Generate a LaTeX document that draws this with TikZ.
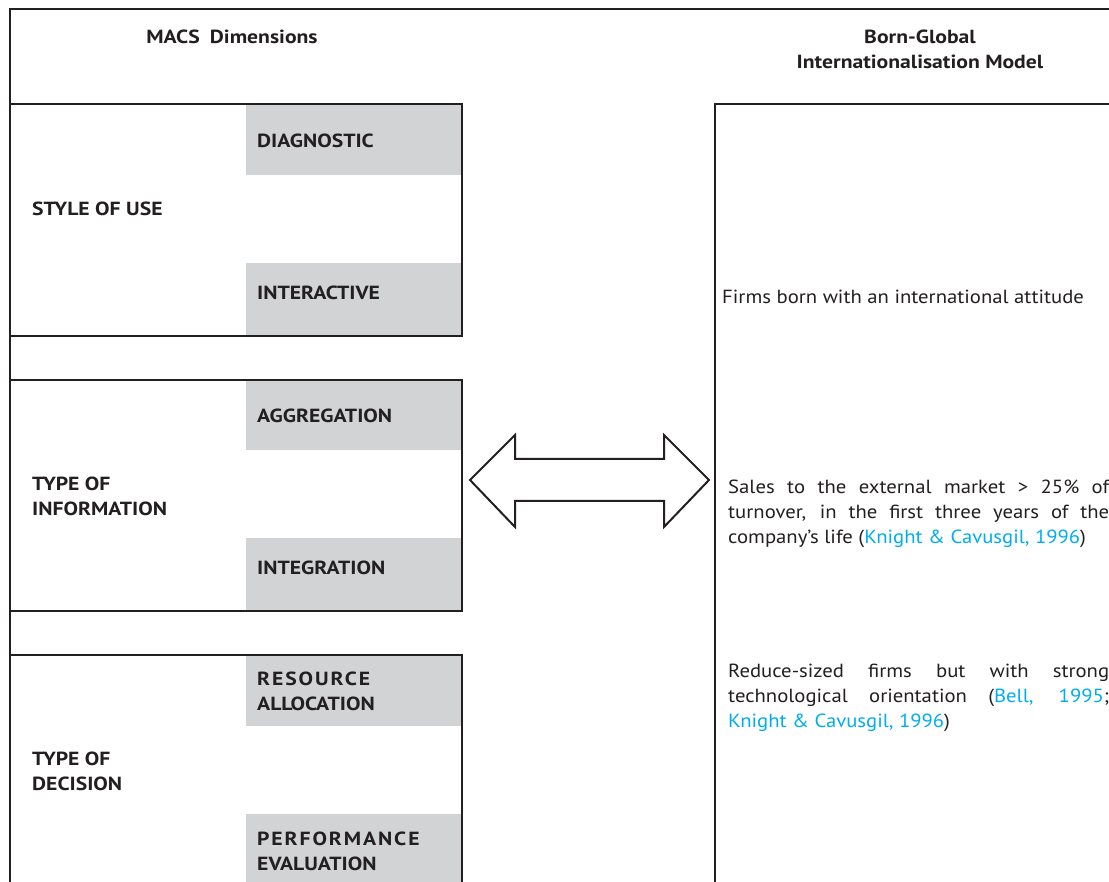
\documentclass[tikz,border=0pt]{standalone}
\usepackage{fontspec}
\setmainfont[FakeStretch=1.09,BoldFeatures={FakeStretch=1.14}]{PT Sans}
\definecolor{ink}{HTML}{231F20}
\definecolor{cellgray}{HTML}{D1D3D4}
\definecolor{cite}{HTML}{00AEEF}
\begin{document}
\begin{tikzpicture}[x=1pt,y=-1pt,
  frame/.style={draw=ink,line width=2pt},
  cell/.style={fill=cellgray},
  hd/.style={font=\fontsize{19}{25}\selectfont\bfseries,text=ink,inner sep=0pt,align=left},
  hdc/.style={font=\fontsize{19}{25}\selectfont\bfseries,text=ink,inner sep=0pt,align=center},
  body/.style={font=\fontsize{19}{25}\selectfont,text=ink,inner sep=0pt},
  para/.style={body,text width=381pt,align=justify,anchor=north west}]
\useasboundingbox (0,0) rectangle (1109,882);
\clip (0,0) rectangle (1109,882);
\fill[white] (0,0) rectangle (1109,882);
% gray cells
\fill[cell] (246,104) rectangle (462,175);
\fill[cell] (246,263) rectangle (462,336);
\fill[cell] (246,380) rectangle (462,450);
\fill[cell] (246,538) rectangle (462,611);
\fill[cell] (246,655) rectangle (462,726);
\fill[cell] (246,814) rectangle (462,890);
% frames
\draw[frame] (10,890) -- (10,9) -- (1115,9);
\draw[frame] (10,104) rectangle (462,336);
\draw[frame] (10,380) rectangle (462,611);
\draw[frame] (10,890) -- (10,655) -- (462,655) -- (462,890);
\draw[frame] (715,890) -- (715,104) -- (1115,104);
% double arrow
\draw[ink,line width=2pt,fill=white,line join=miter]
  (470,480) -- (515,435) -- (515,459) -- (664,459) -- (664,435) -- (709,480)
  -- (664,527) -- (664,501) -- (515,501) -- (515,527) -- cycle;
% headings
\node[hdc] (macs) at (232,37) {MACS\hspace{0.25em} Dimensions};
\node[hdc] (bg) at (920,49) {Born-Global\\Internationalisation Model};
% left labels
\node[hd,anchor=west] (style) at (32,209) {STYLE OF USE};
\node[hd,anchor=west] (info) at (32,496) {TYPE OF\\INFORMATION};
\node[hd,anchor=west] (dec) at (32,771) {TYPE OF\\DECISION};
% cell labels
\node[hd,anchor=west] (diag) at (257,141) {DIAGNOSTIC};
\node[hd,anchor=west] (inter) at (257,293) {INTERACTIVE};
\node[hd,anchor=west] (aggr) at (257,416) {AGGREGATION};
\node[hd,anchor=west] (integ) at (257,568) {INTEGRATION};
\node[hd,anchor=west] (res) at (257,691) {{\addfontfeature{LetterSpace=10}RESOURCE}\\ALLOCATION};
\node[hd,anchor=west] (perf) at (257,851) {{\addfontfeature{LetterSpace=10}PERFORMANCE}\\EVALUATION};
% right texts
\node[body,anchor=west] (firms) at (722,297) {Firms born with an international attitude};
\node[para] (sales) at (728,480) {Sales to the external market > 25\% of\linebreak turnover, in the first three years of the\linebreak company's life (\textcolor{cite}{Knight \& Cavusgil, 1996})};
\node[para] (reduce) at (728,664) {Reduce-sized firms but with strong\linebreak technological orientation (\textcolor{cite}{Bell, 1995};\linebreak \textcolor{cite}{Knight \& Cavusgil, 1996})};
\end{tikzpicture}
\end{document}
